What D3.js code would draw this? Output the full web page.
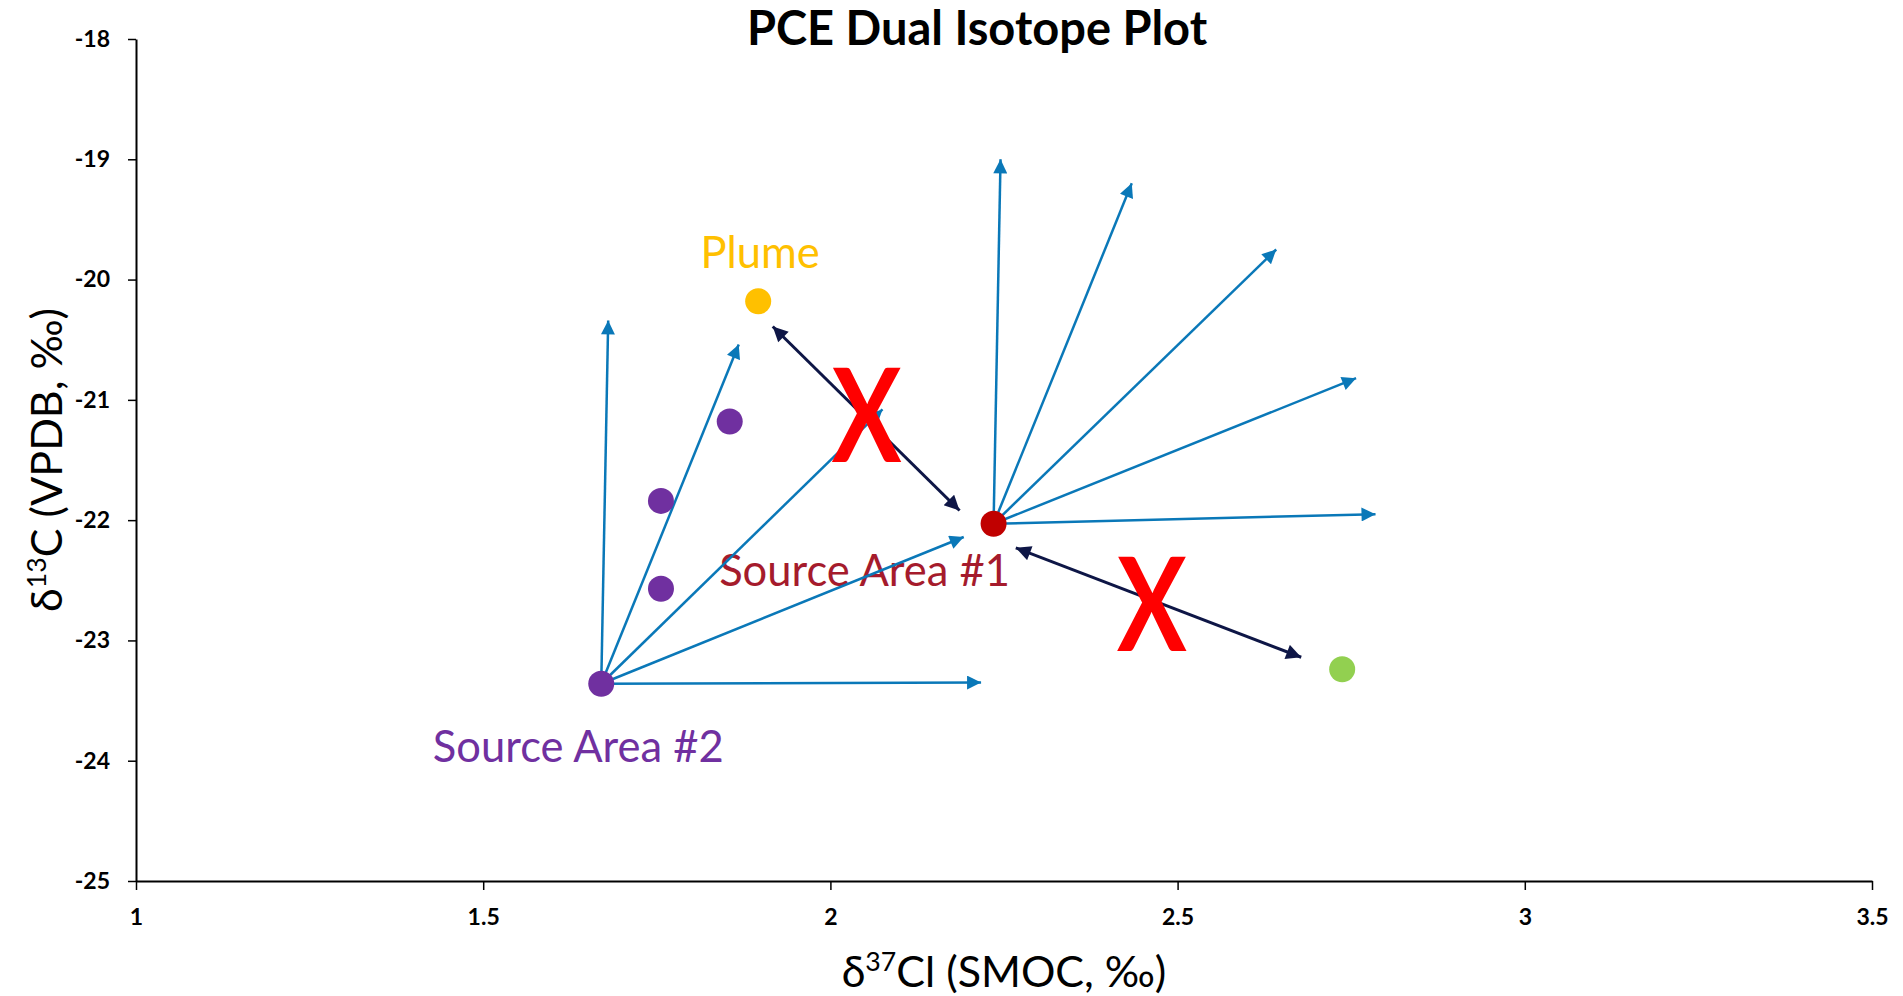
<!DOCTYPE html>
<html>
<head>
<meta charset="utf-8">
<script src="https://cdn.jsdelivr.net/npm/d3@7"></script>
<style>
  html, body { margin: 0; padding: 0; background: #ffffff; }
  svg { display: block; font-family: Lato, "Noto Sans", sans-serif; }
</style>
</head>
<body>
<svg id="chart" width="1903" height="996"></svg>
<script>
// Sample values: [δ37Cl (‰ SMOC), δ13C (‰ VPDB)]
const plume = [[1.896, -20.18]];
const sourceArea1 = [[2.235, -22.03]];
const sourceArea2 = [[1.670, -23.36], [1.756, -22.57], [1.756, -21.84], [1.855, -21.18]];
const downgradient = [[2.737, -23.24]];

// Expected degradation trend end points from each source
const trendTipsArea2 = [[1.680, -20.34], [1.868, -20.54], [2.075, -21.08], [2.192, -22.14], [2.217, -23.35]];
const trendTipsArea1 = [[2.245, -19.00], [2.434, -19.20], [2.642, -19.75], [2.757, -20.82], [2.785, -21.95]];

// Rejected links (double-headed), each [from, to]
const rejectedLinks = [
  [[1.917, -20.39], [2.186, -21.92]],
  [[2.267, -22.23], [2.678, -23.14]]
];
// Where the rejection marks sit (baseline of the glyph)
const rejectMarks = [[2.052, -21.52], [2.463, -23.085]];

const xTicks = [1, 1.5, 2, 2.5, 3, 3.5];
const yTicks = [-25, -24, -23, -22, -21, -20, -19, -18];
const groupNames = ["Plume", "Source Area #1", "Source Area #2"];

const W = 1903, H = 996;
const margin = { top: 39, right: 31, bottom: 115, left: 136 };

const svg = d3.select("#chart");

const x = d3.scaleLinear().domain([1, 3.5]).range([margin.left, W - margin.right]);
const y = d3.scaleLinear().domain([-25, -18]).range([H - margin.bottom, margin.top]);

const blue = "#0A78B8", navy = "#0E1646";

// arrowheads
const defs = svg.append("defs");
function marker(id, color, len, wid) {
  defs.append("marker")
    .attr("id", id)
    .attr("viewBox", "0 0 10 10")
    .attr("refX", 10).attr("refY", 5)
    .attr("markerUnits", "userSpaceOnUse")
    .attr("markerWidth", len).attr("markerHeight", wid)
    .attr("orient", "auto-start-reverse")
    .append("path")
    .attr("d", "M0,0 L10,5 L0,10 Z")
    .attr("fill", color);
}
marker("arrowBlue", blue, 15, 14);
marker("arrowNavy", navy, 17, 15);

// axes
const xAxis = d3.axisBottom(x).tickValues(xTicks).tickFormat(d => String(d))
  .tickSize(9).tickSizeOuter(0).tickPadding(19);
const yAxis = d3.axisLeft(y).tickValues(yTicks).tickFormat(d => String(d))
  .tickSize(8).tickSizeOuter(0).tickPadding(18);

const gx = svg.append("g").attr("transform", `translate(0,${H - margin.bottom})`).call(xAxis);
const gy = svg.append("g").attr("transform", `translate(${margin.left},0)`).call(yAxis);
[gx, gy].forEach(g => {
  g.select(".domain").attr("stroke", "#000").attr("stroke-width", 2);
  g.selectAll(".tick line").attr("stroke", "#000").attr("stroke-width", 1.5);
  g.selectAll(".tick text")
    .attr("fill", "#000")
    .attr("font-family", "Lato, sans-serif")
    .attr("font-weight", "bold")
    .attr("font-size", 23);
});

// rejected links (drawn beneath the points and marks)
svg.append("g").selectAll("line").data(rejectedLinks).join("line")
  .attr("x1", d => x(d[0][0])).attr("y1", d => y(d[0][1]))
  .attr("x2", d => x(d[1][0])).attr("y2", d => y(d[1][1]))
  .attr("stroke", navy).attr("stroke-width", 3)
  .attr("marker-start", "url(#arrowNavy)")
  .attr("marker-end", "url(#arrowNavy)");

// group labels
const labelFont = 43.5;
const labels = svg.append("g").attr("font-size", labelFont).attr("text-anchor", "middle");
labels.append("text")
  .attr("x", x(plume[0][0]) + 2).attr("y", y(plume[0][1]) - 33)
  .attr("fill", "#FFC000").text(groupNames[0]);
labels.append("text")
  .attr("x", x(sourceArea1[0][0]) - 129).attr("y", y(sourceArea1[0][1]) + 62)
  .attr("fill", "#A51B2C").text(groupNames[1]);
labels.append("text")
  .attr("x", x(sourceArea2[0][0]) - 23).attr("y", y(sourceArea2[0][1]) + 78)
  .attr("fill", "#7030A0").text(groupNames[2]);

// trend vectors from each source
const trendData = [
  ...trendTipsArea2.map(t => [sourceArea2[0], t]),
  ...trendTipsArea1.map(t => [sourceArea1[0], t])
];
svg.append("g").selectAll("line").data(trendData).join("line")
  .attr("x1", d => x(d[0][0])).attr("y1", d => y(d[0][1]))
  .attr("x2", d => x(d[1][0])).attr("y2", d => y(d[1][1]))
  .attr("stroke", blue).attr("stroke-width", 2.5)
  .attr("marker-end", "url(#arrowBlue)");

// sample points
const pts = [
  ...plume.map(p => ({ p, c: "#FFC000" })),
  ...sourceArea2.map(p => ({ p, c: "#7030A0" })),
  ...sourceArea1.map(p => ({ p, c: "#C00000" })),
  ...downgradient.map(p => ({ p, c: "#92D050" }))
];
svg.append("g").selectAll("circle").data(pts).join("circle")
  .attr("cx", d => x(d.p[0])).attr("cy", d => y(d.p[1]))
  .attr("r", 13).attr("fill", d => d.c);

// rejection marks
svg.append("g").selectAll("text").data(rejectMarks).join("text")
  .attr("transform", d => `translate(${x(d[0])},${y(d[1])}) scale(0.8,1)`)
  .attr("text-anchor", "middle")
  .attr("font-weight", "bold").attr("font-size", 130)
  .attr("fill", "#FF0000").text("X");

// title
svg.append("text")
  .attr("x", 977).attr("y", 45).attr("text-anchor", "middle")
  .attr("font-weight", "bold").attr("font-size", 47).attr("fill", "#000")
  .text("PCE Dual Isotope Plot");

// axis titles
const xt = svg.append("text")
  .attr("x", (margin.left + W - margin.right) / 2).attr("y", 987)
  .attr("text-anchor", "middle").attr("font-size", 43).attr("fill", "#000");
xt.append("tspan").text("δ");
xt.append("tspan").attr("font-size", "0.62em").attr("dy", "-0.6em").text("37");
xt.append("tspan").attr("dy", "0.37em").text("Cl (SMOC, ‰)");

const yt = svg.append("text")
  .attr("transform", `translate(62,${(margin.top + H - margin.bottom) / 2}) rotate(-90)`)
  .attr("text-anchor", "middle").attr("font-size", 43).attr("fill", "#000");
yt.append("tspan").text("δ");
yt.append("tspan").attr("font-size", "0.62em").attr("dy", "-0.6em").text("13");
yt.append("tspan").attr("dy", "0.37em").text("C (VPDB, ‰)");
</script>
</body>
</html>
